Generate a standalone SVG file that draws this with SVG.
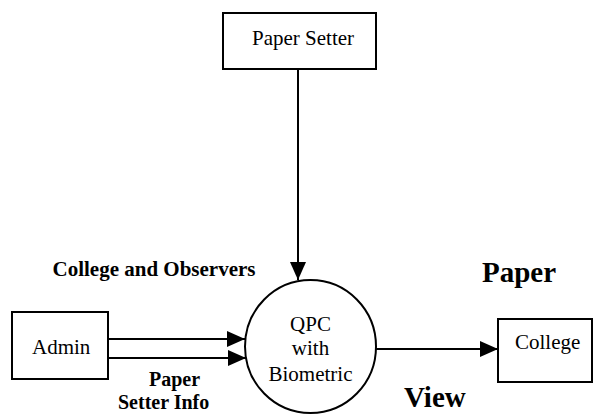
<svg xmlns="http://www.w3.org/2000/svg" width="593" height="414" viewBox="0 0 593 414">
<style>
text{font-family:'Liberation Serif','Times New Roman',Times,serif;font-size:21px;fill:#000}
.box{fill:#fff;stroke:#000;stroke-width:2}
.c{text-anchor:middle}
.b{font-weight:bold}
.sm{font-size:20px}
.big{font-size:29px}
.ln{stroke:#000;stroke-width:2;fill:none}
</style>
<defs>
<marker id="ah" markerWidth="18" markerHeight="16" refX="18" refY="8" orient="auto" markerUnits="userSpaceOnUse">
<path d="M0,0 L18,8 L0,16 Z" fill="#000"/>
</marker>
</defs>
<rect width="593" height="414" fill="#fff"/>
<g id="connectors">
<line class="ln" x1="298" y1="69" x2="298" y2="280" marker-end="url(#ah)"/>
<line class="ln" x1="107" y1="339" x2="245" y2="339" marker-end="url(#ah)"/>
<line class="ln" x1="107" y1="358" x2="246" y2="358" marker-end="url(#ah)"/>
<line class="ln" x1="376" y1="349" x2="498" y2="349" marker-end="url(#ah)"/>
</g>
<g id="paper-setter">
<rect class="box" x="223" y="13" width="153" height="56"/>
<text x="252" y="45">Paper Setter</text>
</g>
<g id="admin">
<rect class="box" x="12" y="312" width="96" height="67"/>
<text x="32" y="354">Admin</text>
</g>
<g id="qpc">
<ellipse class="box" cx="310.5" cy="346.5" rx="65.5" ry="66.5"/>
<text class="c" x="310.5" y="331">QPC</text>
<text class="c" x="310.5" y="355">with</text>
<text class="c" x="310.5" y="381">Biometric</text>
</g>
<g id="college">
<rect class="box" x="498" y="319" width="94" height="63"/>
<text x="515" y="349">College</text>
</g>
<g id="labels">
<text class="b" x="52.5" y="276">College and Observers</text>
<text class="b sm" x="149" y="386">Paper</text>
<text class="b sm" x="118" y="409">Setter Info</text>
<text class="b big" x="482" y="282">Paper</text>
<text class="b big" x="404" y="407">View</text>
</g>
</svg>
